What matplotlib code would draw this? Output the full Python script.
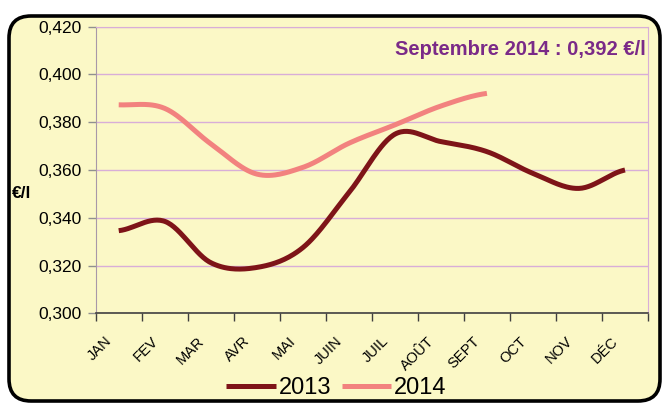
import numpy as np
import matplotlib
matplotlib.use("Agg")
import matplotlib.pyplot as plt
from matplotlib.patches import FancyBboxPatch
from matplotlib.transforms import ScaledTranslation

# data
months = ["JAN", "FEV", "MAR", "AVR", "MAI", "JUIN", "JUIL", "AOÛT", "SEPT", "OCT", "NOV", "DÉC"]
prix_2013 = [0.3346, 0.3385, 0.3212, 0.3192, 0.3275, 0.3505, 0.3750, 0.3719, 0.3677, 0.3586, 0.3523, 0.3600]
prix_2014 = [0.3873, 0.3858, 0.3710, 0.3583, 0.3611, 0.3712, 0.3789, 0.3868, 0.3921]
y_ticks = [0.300, 0.320, 0.340, 0.360, 0.380, 0.400, 0.420]
note = "Septembre 2014 : 0,392 €/l"

BG = "#FBF8C6"
GRID = "#D8AED8"
C13 = "#7E1418"
C14 = "#F2827F"
SANS = ["Liberation Sans", "DejaVu Sans"]


def smooth(y, n=30):
    # Excel-like smoothed line: Catmull-Rom through each data point
    y = np.asarray(y, float)
    x = np.arange(len(y), dtype=float)
    m = np.zeros_like(y)
    m[1:-1] = (y[2:] - y[:-2]) / 2
    m[0] = (y[1] - y[0]) / 2
    m[-1] = (y[-1] - y[-2]) / 2
    xs, ys = [], []
    for i in range(len(y) - 1):
        t = np.linspace(0, 1, n, endpoint=(i == len(y) - 2))
        h00 = 2 * t**3 - 3 * t**2 + 1
        h10 = t**3 - 2 * t**2 + t
        h01 = -2 * t**3 + 3 * t**2
        h11 = t**3 - t**2
        xs.append(x[i] + t)
        ys.append(h00 * y[i] + h10 * m[i] + h01 * y[i + 1] + h11 * m[i + 1])
    return np.concatenate(xs), np.concatenate(ys)


fig = plt.figure(figsize=(6.66, 4.05), dpi=100, facecolor="white")

# rounded yellow frame
frame = FancyBboxPatch((0.09, 0.04), 6.51, 3.85, boxstyle="round,pad=0,rounding_size=0.22",
                       transform=fig.dpi_scale_trans, facecolor=BG, edgecolor="black",
                       linewidth=2.6, zorder=-5)
fig.patches.append(frame)

ax = fig.add_axes([0.1437, 0.2264, 0.8293, 0.7076])
ax.set_facecolor(BG)

x13, y13 = smooth(prix_2013)
x14, y14 = smooth(prix_2014)
ax.plot(x13, y13, color=C13, lw=3.6, solid_capstyle="butt", label="2013", zorder=3)
ax.plot(x14, y14, color=C14, lw=3.6, solid_capstyle="butt", label="2014", zorder=3)

ax.set_xlim(-0.5, 11.5)
ax.set_ylim(0.300, 0.420)
ax.set_yticks(y_ticks)
ax.set_yticklabels([f"{v:.3f}".replace(".", ",") for v in y_ticks], family=SANS, fontsize=12.5)
ax.yaxis.grid(True, color=GRID, lw=1.0)
ax.set_axisbelow(True)

ax.set_xticks(np.arange(-0.5, 12.0, 1.0))
ax.set_xticklabels([])
ax.set_xticks(np.arange(12), minor=True)
ax.set_xticklabels(months, minor=True, rotation=45, ha="right", va="top",
                   family=SANS, fontsize=10.5)
ax.tick_params(axis="x", which="major", direction="out", length=6, color="#404040", width=1)
ax.tick_params(axis="x", which="minor", length=0, pad=15)
ax.tick_params(axis="y", direction="out", length=6, color="#909090", width=1, pad=4)
for lab in ax.get_xticklabels(minor=True):
    lab.set_transform(lab.get_transform() + ScaledTranslation(-0.04, 0, fig.dpi_scale_trans))

ax.spines["left"].set_color("#A898A8")
ax.spines["bottom"].set_color("#404040")
ax.spines["bottom"].set_linewidth(1.2)
ax.spines["right"].set_color(GRID)
ax.spines["top"].set_color(GRID)

fig.text(0.018, 0.522, "€/l", family=SANS, fontsize=12.5, fontweight="bold", va="center", ha="left")

ax.text(0.995, 0.92, note, transform=ax.transAxes, ha="right", va="center",
        family=SANS, fontsize=14.5, fontweight="bold", color="#7A2A88")

fig.legend(loc="center", bbox_to_anchor=(0.505, 0.042), ncol=2, frameon=False,
           prop={"family": SANS, "size": 17}, handlelength=2.1, handletextpad=0.12,
           columnspacing=0.45, borderpad=0)

fig.savefig("out.png", dpi=100, facecolor="white")
